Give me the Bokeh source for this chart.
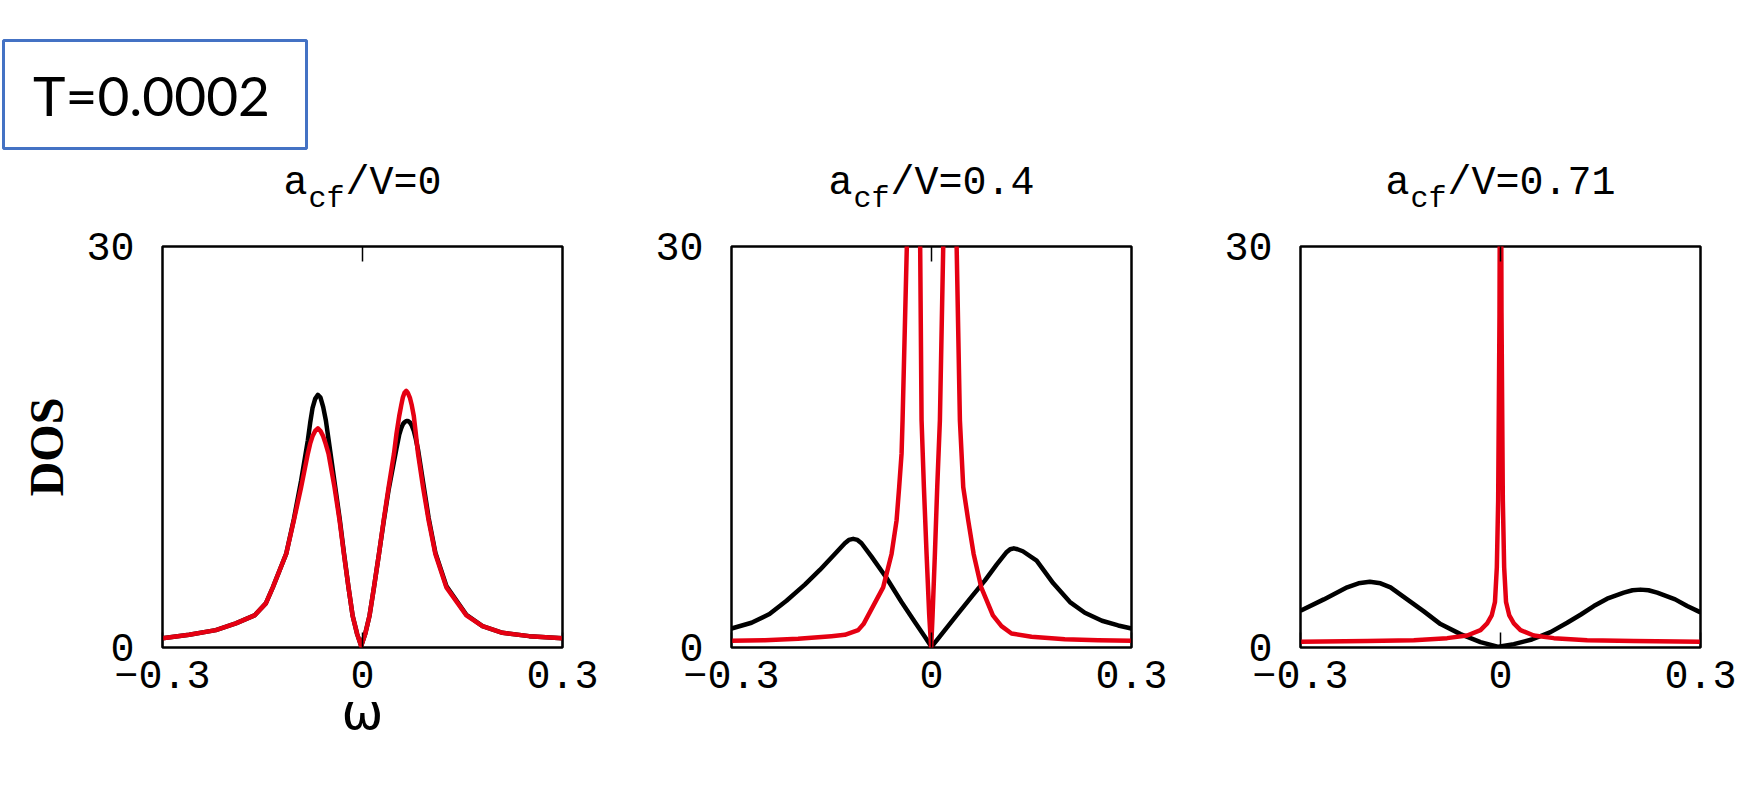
from bokeh.plotting import figure
from bokeh.models import FixedTicker, LinearAxis, Range1d
from bokeh.layouts import row, column
from bokeh.core.properties import value
from bokeh.embed import file_html
from bokeh.resources import INLINE

# ---------------- data ----------------
temperature_label = "T=0.0002"
title_main = "a"
title_sub = "cf"
panel_ratio_labels = ["/V=0", "/V=0.4", "/V=0.71"]
y_axis_title = "DOS"
x_axis_title = "\u03c9"

x_ticks = [-0.3, 0.0, 0.3]
x_tick_labels = ["\u22120.3", "0", "0.3"]
y_ticks = [0, 30]

# panel 1 : a_cf/V = 0
omega_1 = [-0.300, -0.260, -0.220, -0.190, -0.162, -0.145, -0.1345, -0.1145, -0.103, -0.092,
           -0.082, -0.0785, -0.075, -0.071, -0.0669, -0.063, -0.059, -0.055, -0.051, -0.042,
           -0.0344, -0.0279, -0.021, -0.0149, -0.008, -0.002, 0.004, 0.0106, 0.0172, 0.0247,
           0.0317, 0.0392, 0.0472, 0.051, 0.055, 0.058, 0.0605, 0.063, 0.0657, 0.068,
           0.071, 0.074, 0.077, 0.080, 0.0833, 0.0908, 0.0992, 0.1093, 0.1258, 0.1558,
           0.180, 0.210, 0.250, 0.300]
dos_red_1 = [0.70, 0.95, 1.30, 1.80, 2.40, 3.30, 4.50, 7.00, 9.50, 12.0,
             14.5, 15.25, 15.8, 16.2, 16.4, 16.2, 15.8, 15.2, 14.5, 12.0,
             9.50, 7.00, 4.50, 2.40, 1.00, 0.10, 1.00, 2.40, 4.50, 7.00,
             9.50, 12.0, 14.5, 16.0, 17.3, 18.1, 18.7, 19.05, 19.2, 19.05,
             18.7, 18.1, 17.3, 16.0, 14.5, 12.0, 9.50, 7.00, 4.50, 2.40,
             1.60, 1.10, 0.85, 0.70]
dos_black_1 = [0.70, 0.95, 1.30, 1.80, 2.40, 3.30, 4.50, 7.00, 9.60, 12.5,
               15.5, 16.8, 17.9, 18.6, 18.9, 18.7, 18.0, 17.0, 15.6, 12.4,
               9.70, 7.10, 4.50, 2.40, 1.00, 0.10, 1.00, 2.40, 4.50, 7.00,
               9.40, 11.8, 13.9, 14.9, 15.9, 16.4, 16.7, 16.85, 16.95, 16.95,
               16.85, 16.6, 16.2, 15.6, 14.8, 12.4, 9.70, 7.10, 4.60, 2.45,
               1.60, 1.10, 0.85, 0.70]

# panel 2 : a_cf/V = 0.4
omega_black_2 = [-0.300, -0.270, -0.243, -0.2175, -0.190, -0.1675, -0.145, -0.130, -0.124, -0.1175,
                 -0.111, -0.105, -0.090, -0.0674, -0.045, -0.025, -0.010, 0.000, 0.012, 0.0376,
                 0.0618, 0.080, 0.0977, 0.112, 0.118, 0.1235, 0.129, 0.137, 0.1577, 0.1827,
                 0.2077, 0.230, 0.2557, 0.280, 0.300]
dos_black_2 = [1.42, 1.85, 2.50, 3.50, 4.70, 5.80, 7.00, 7.80, 8.05, 8.13,
               8.05, 7.80, 6.80, 5.20, 3.40, 1.90, 0.80, 0.05, 0.80, 2.40,
               3.90, 5.00, 6.20, 7.10, 7.35, 7.42, 7.35, 7.20, 6.50, 4.80,
               3.40, 2.60, 2.00, 1.65, 1.42]
omega_red_2 = [-0.300, -0.250, -0.200, -0.150, -0.130, -0.110, -0.102, -0.095, -0.0725, -0.0599,
               -0.0524, -0.0485, -0.0449, -0.0434, -0.037, -0.026, -0.017, -0.0149, -0.0114, -0.0074,
               -0.0034, -0.0005, 0.0016, 0.0051, 0.0086, 0.0126, 0.0176, 0.027, 0.0377, 0.0426,
               0.0476, 0.0551, 0.0632, 0.0746, 0.0921, 0.105, 0.120, 0.150, 0.200, 0.250, 0.300]
dos_red_2 = [0.50, 0.55, 0.65, 0.85, 0.95, 1.30, 1.75, 2.40, 4.50, 7.00,
             9.50, 12.0, 14.5, 17.0, 30.0, 50.0, 30.0, 17.0, 12.0, 7.00,
             2.40, 0.00, 2.40, 7.00, 12.0, 17.0, 30.0, 50.0, 30.0, 17.0,
             12.0, 9.50, 7.00, 4.50, 2.40, 1.60, 1.05, 0.80, 0.62, 0.55, 0.50]

# panel 3 : a_cf/V = 0.71
omega_black_3 = [-0.300, -0.265, -0.230, -0.213, -0.196, -0.180, -0.165, -0.140, -0.115, -0.090,
                 -0.060, -0.030, -0.003, 0.020, 0.047, 0.075, 0.100, 0.120, 0.140, 0.160,
                 0.185, 0.198, 0.210, 0.222, 0.235, 0.262, 0.280, 0.300]
dos_black_3 = [2.75, 3.60, 4.50, 4.80, 4.92, 4.80, 4.50, 3.60, 2.70, 1.75,
               1.00, 0.40, 0.05, 0.25, 0.60, 1.15, 1.85, 2.45, 3.10, 3.65,
               4.10, 4.28, 4.33, 4.28, 4.10, 3.60, 3.10, 2.63]
omega_red_3 = [-0.300, -0.200, -0.130, -0.080, -0.050, -0.030, -0.020, -0.0132, -0.0083, -0.0055,
               -0.0035, -0.0015, 0.000, 0.0015, 0.0035, 0.0055, 0.0083, 0.0132, 0.020, 0.030,
               0.050, 0.080, 0.130, 0.200, 0.300]
dos_red_3 = [0.43, 0.48, 0.55, 0.70, 0.90, 1.30, 1.80, 2.40, 3.40, 6.00,
             11.0, 25.0, 50.0, 25.0, 11.0, 6.00, 3.40, 2.40, 1.80, 1.30,
             0.90, 0.70, 0.55, 0.48, 0.43]

black_series = [(omega_1, dos_black_1), (omega_black_2, dos_black_2), (omega_black_3, dos_black_3)]
red_series = [(omega_1, dos_red_1), (omega_red_2, dos_red_2), (omega_red_3, dos_red_3)]

# ---------------- styling / layout ----------------
RED = "#e50012"
BLUE = "#4472c4"
MONO = "Liberation Mono"
TICK_PX = 40
TITLE_PX = 40
SUB_PX = 30
LINE_W = 4.5
PAGE_W, PAGE_H = 1753, 793
TOP_STRIP = 222
FRAME_W, FRAME_H = 400, 401
PANEL_TOP = 24
PANEL_BOTTOM = PAGE_H - TOP_STRIP - PANEL_TOP - FRAME_H
# (total width, left border, right border) of each panel figure
panel_boxes = [(646, 162, 84), (569, 85, 84), (538, 85, 53)]


def make_panel(i):
    width, left, right = panel_boxes[i]
    p = figure(width=width, height=PANEL_TOP + FRAME_H + PANEL_BOTTOM,
               x_range=Range1d(-0.3, 0.3), y_range=Range1d(0, 30),
               output_backend="svg", toolbar_location=None,
               min_border_left=left, min_border_right=right,
               min_border_top=PANEL_TOP, min_border_bottom=PANEL_BOTTOM)
    p.background_fill_color = "white"
    p.border_fill_color = "white"
    p.outline_line_color = "black"
    p.outline_line_width = 2.5
    p.xgrid.visible = False
    p.ygrid.visible = False

    xa = p.below[0]
    xa.ticker = FixedTicker(ticks=x_ticks)
    xa.major_label_overrides = dict(zip(x_ticks, x_tick_labels))
    xa.axis_line_color = None
    xa.major_tick_in = 15
    xa.major_tick_out = 0
    xa.major_tick_line_width = 1.5
    xa.major_tick_line_color = "black"
    xa.minor_tick_line_color = None
    xa.major_label_standoff = 13
    xa.major_label_text_font = MONO
    xa.major_label_text_font_size = f"{TICK_PX}px"
    xa.major_label_text_color = "black"

    top = LinearAxis(ticker=FixedTicker(ticks=[0.0]),
                     major_label_overrides={0.0: ""},
                     major_label_text_font_size="6px", major_label_standoff=0,
                     axis_line_color=None, major_tick_in=15, major_tick_out=0,
                     major_tick_line_width=1.5, major_tick_line_color="black",
                     minor_tick_line_color=None)
    p.add_layout(top, "above")

    ya = p.left[0]
    ya.ticker = FixedTicker(ticks=y_ticks)
    ya.axis_line_color = None
    ya.major_tick_line_color = None
    ya.minor_tick_line_color = None
    ya.major_label_standoff = 22
    ya.major_label_text_font = MONO
    ya.major_label_text_font_size = f"{TICK_PX}px"
    ya.major_label_text_color = "black"

    bw, bd = black_series[i]
    rw, rd = red_series[i]
    p.line(bw, bd, line_color="black", line_width=LINE_W, line_join="round")
    p.line(rw, rd, line_color=RED, line_width=LINE_W, line_join="round")
    return p, xa, ya


def strip(height):
    s = figure(width=PAGE_W, height=height,
               x_range=Range1d(0, PAGE_W), y_range=Range1d(height, 0),
               output_backend="svg", toolbar_location=None,
               x_axis_location=None, y_axis_location=None,
               min_border_left=0, min_border_right=0, min_border_top=0, min_border_bottom=0)
    s.grid.visible = False
    s.outline_line_color = None
    s.background_fill_color = "white"
    s.border_fill_color = "white"
    return s


built = [make_panel(i) for i in range(3)]
panels = [b[0] for b in built]
xa1, ya1 = built[0][1], built[0][2]

ya1.axis_label = y_axis_title
ya1.axis_label_text_font = "Liberation Serif"
ya1.axis_label_text_font_style = "bold"
ya1.axis_label_text_font_size = "48px"
ya1.axis_label_text_color = "black"
ya1.axis_label_standoff = 10

xa1.axis_label = x_axis_title
xa1.axis_label_text_font = "DejaVu Sans"
xa1.axis_label_text_font_style = "normal"
xa1.axis_label_text_font_size = "50px"
xa1.axis_label_text_color = "black"
xa1.axis_label_standoff = -8

# ---- top strip: T box and panel titles a_cf/V=...
top_strip = strip(TOP_STRIP)
top_strip.quad(left=[3], right=[306], top=[40], bottom=[148],
               fill_color=None, line_color=BLUE, line_width=3)
top_strip.text(x=[151], y=[94], text=[temperature_label],
               text_font=value("Lato"), text_font_size=value("55px"),
               text_color="black", text_align="center", text_baseline="middle")

frame_centers = []
acc = 0
for (w, l, r) in panel_boxes:
    frame_centers.append(acc + l + FRAME_W / 2)
    acc += w

cw = 0.6 * TITLE_PX
sw = 0.6 * SUB_PX
gap = 1
title_mid = 183
sub_mid = 198
main_x, main_t, sub_x, sub_t = [], [], [], []
for cx, rest in zip(frame_centers, panel_ratio_labels):
    total = cw * (len(title_main) + len(rest)) + sw * len(title_sub) + 2 * gap
    x0 = cx - total / 2
    main_x += [x0, x0 + cw * len(title_main) + sw * len(title_sub) + 2 * gap]
    main_t += [title_main, rest]
    sub_x.append(x0 + cw * len(title_main) + gap)
    sub_t.append(title_sub)
top_strip.text(x=main_x, y=[title_mid] * len(main_x), text=main_t,
               text_font=value(MONO), text_font_size=value(f"{TITLE_PX}px"),
               text_color="black", text_align="left", text_baseline="middle")
top_strip.text(x=sub_x, y=[sub_mid] * len(sub_x), text=sub_t,
               text_font=value(MONO), text_font_size=value(f"{SUB_PX}px"),
               text_color="black", text_align="left", text_baseline="middle")

layout = column(top_strip, row(*panels, spacing=0), spacing=0)
open("out.html", "w").write(file_html(layout, INLINE))
